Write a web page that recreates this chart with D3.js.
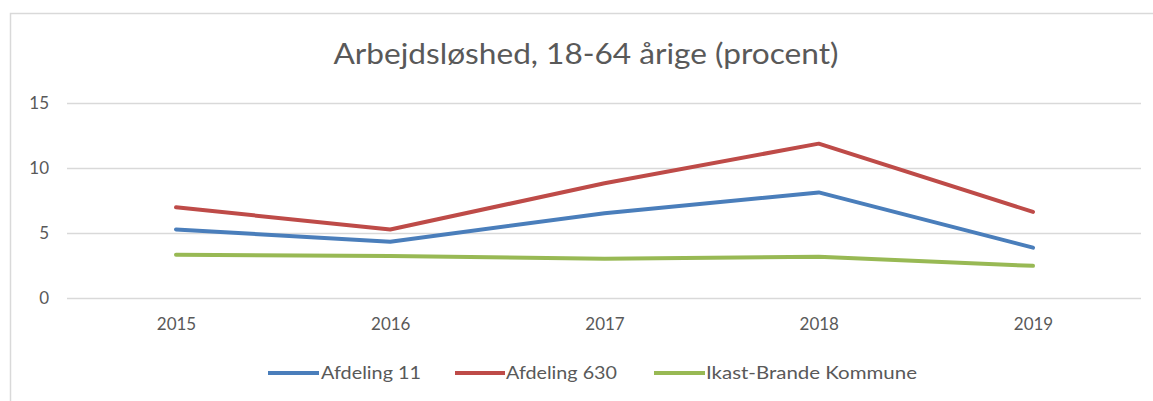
<!DOCTYPE html>
<html><head><meta charset="utf-8">
<script src="https://cdn.jsdelivr.net/npm/d3@7"></script>
<style>
html,body{margin:0;padding:0;background:#fff;}
svg{display:block;}
text{font-family:Lato,"Open Sans",sans-serif;fill:#595959;}
</style></head>
<body>
<svg id="chart" width="1153" height="401"></svg>
<script>
const title = "Arbejdsløshed, 18-64 årige (procent)";
const years = ["2015","2016","2017","2018","2019"];
const afdeling11 = [5.25, 4.3, 6.5, 8.1, 3.85];
const afdeling630 = [6.95, 5.25, 8.8, 11.85, 6.6];
const ikastBrande = [3.3, 3.2, 3.0, 3.15, 2.45];
const seriesNames = ["Afdeling 11", "Afdeling 630", "Ikast-Brande Kommune"];
const seriesColors = ["#4a7ebb", "#be4b48", "#98b954"];
const yTicks = [0, 5, 10, 15];

const series = [afdeling11, afdeling630, ikastBrande].map((v, i) => ({
  name: seriesNames[i], color: seriesColors[i], values: v
}));

const svg = d3.select("#chart");
const W = 1153, H = 401;
const FONT = 'Lato,"Open Sans",sans-serif';

// chart border
svg.append("path").attr("d", `M10.5,${H} L10.5,13.5 L${W},13.5`)
  .attr("fill", "none").attr("stroke", "#d9d9d9").attr("stroke-width", 1.5);

const x = d3.scalePoint().domain(years).range([176, 1033]);
const y = d3.scaleLinear().domain([0, 15]).range([297.7, 102.7]);

// gridlines
svg.append("g").selectAll("line").data(yTicks).join("line")
  .attr("x1", 67).attr("x2", 1141)
  .attr("y1", d => Math.round(y(d)) + 0.5).attr("y2", d => Math.round(y(d)) + 0.5)
  .attr("stroke", "#d9d9d9").attr("stroke-width", 1.3);

// y axis labels
const yAxis = d3.axisLeft(y).tickValues(yTicks).tickSize(0).tickPadding(0);
const gy = svg.append("g").attr("transform", "translate(49,0)").call(yAxis);
gy.select(".domain").remove();
gy.selectAll("text").attr("font-size", 17).attr("fill", "#595959").style("font-family", FONT);

// x axis labels
const xAxis = d3.axisBottom(x).tickSize(0).tickPadding(0);
const gx = svg.append("g").attr("transform", "translate(0,318)").call(xAxis);
gx.select(".domain").remove();
gx.selectAll("text").attr("font-size", 17).attr("fill", "#595959").style("font-family", FONT);

// title
svg.append("text").attr("x", 586).attr("y", 64).attr("text-anchor", "middle")
  .attr("font-size", 28).attr("textLength", 505).attr("lengthAdjust", "spacingAndGlyphs")
  .text(title);

// lines
const line = d3.line().x((d, i) => x(years[i])).y(d => y(d));
svg.append("g").selectAll("path").data(series).join("path")
  .attr("d", d => line(d.values))
  .attr("fill", "none").attr("stroke", d => d.color)
  .attr("stroke-width", 4).attr("stroke-linejoin", "round").attr("stroke-linecap", "round");

// legend
const legendItems = [
  {x1: 268, x2: 319, tx: 321, tw: 100},
  {x1: 455, x2: 505, tx: 506, tw: 111},
  {x1: 654, x2: 705, tx: 706, tw: 211}
];
const lg = svg.append("g");
series.forEach((s, i) => {
  const L = legendItems[i];
  lg.append("line").attr("x1", L.x1).attr("x2", L.x2).attr("y1", 373).attr("y2", 373)
    .attr("stroke", s.color).attr("stroke-width", 4);
  lg.append("text").attr("x", L.tx).attr("y", 379).attr("font-size", 17)
    .attr("textLength", L.tw).attr("lengthAdjust", "spacingAndGlyphs").text(s.name);
});
</script>
</body></html>
